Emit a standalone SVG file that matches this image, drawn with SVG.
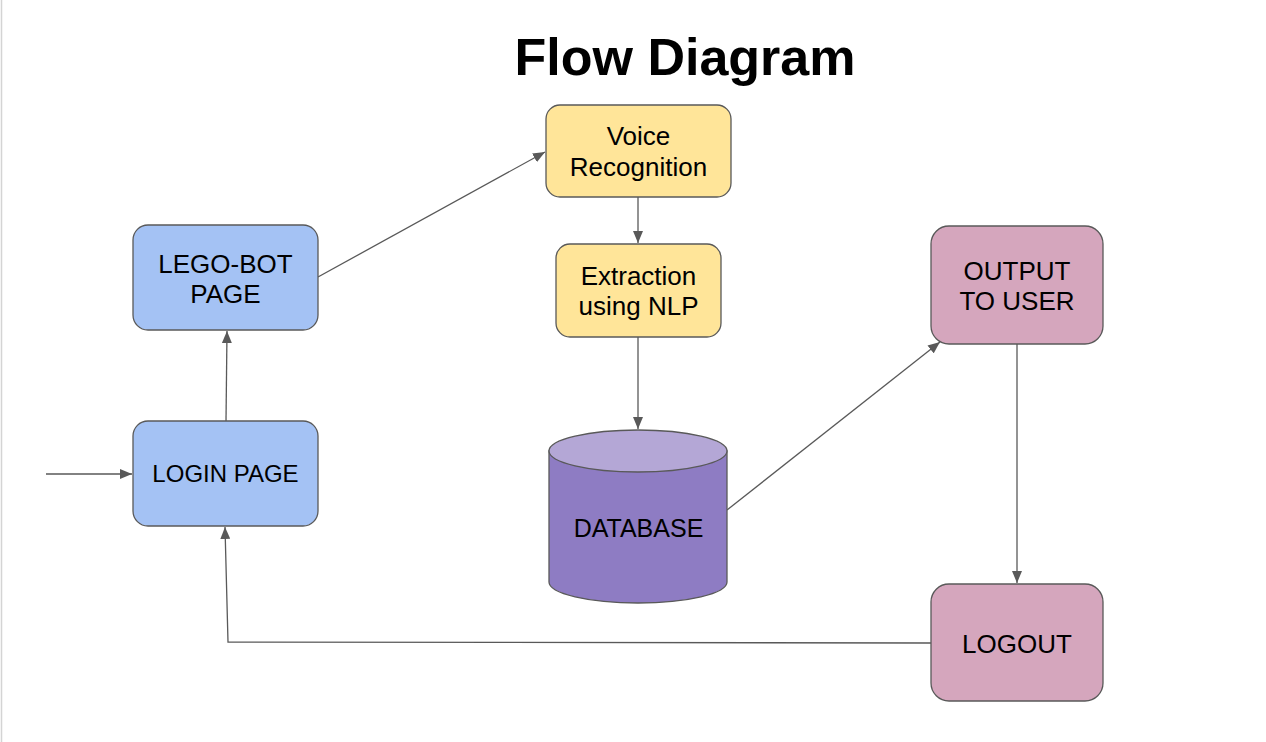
<svg xmlns="http://www.w3.org/2000/svg" width="1266" height="742" viewBox="0 0 1266 742">
<style>
.node{stroke:#595959;stroke-width:1.3}
.blue{fill:#a4c2f4}.yellow{fill:#ffe599}.pink{fill:#d5a6bd}
.lbl{font-family:"Liberation Sans",Arial,sans-serif;font-size:26px;fill:#000;text-anchor:middle}
.conn{stroke:#595959;stroke-width:1.3;fill:none}
.title{font-family:"Liberation Sans",Arial,sans-serif;font-size:52px;font-weight:bold;text-anchor:middle;fill:#000}
</style>
<defs>
<marker id="ah" viewBox="0 0 12 10" refX="12" refY="5" markerWidth="12" markerHeight="10" markerUnits="userSpaceOnUse" orient="auto">
<path d="M0,0 L12,5 L0,10 z" fill="#595959"/>
</marker>
</defs>
<rect x="0" y="0" width="1266" height="742" fill="#fff"/>
<line x1="1.5" y1="0" x2="1.5" y2="742" stroke="#d4d4d4" stroke-width="1.5"/>
<text class="title" x="685" y="75">Flow Diagram</text>
<g id="connectors">
<line class="conn" x1="46" y1="474" x2="132" y2="474" marker-end="url(#ah)"/>
<line class="conn" x1="226" y1="421" x2="227" y2="331" marker-end="url(#ah)"/>
<line class="conn" x1="318" y1="277" x2="545" y2="152" marker-end="url(#ah)"/>
<line class="conn" x1="638" y1="197" x2="638" y2="243" marker-end="url(#ah)"/>
<line class="conn" x1="638" y1="337" x2="638" y2="429" marker-end="url(#ah)"/>
<line class="conn" x1="727" y1="510" x2="940" y2="342" marker-end="url(#ah)"/>
<line class="conn" x1="1017" y1="344" x2="1017" y2="583" marker-end="url(#ah)"/>
<polyline class="conn" points="931,643 228,642 225,527" marker-end="url(#ah)"/>
</g>
<g id="lego-bot">
<rect class="node blue" x="133" y="225" width="185" height="105" rx="15"/>
<text class="lbl" x="225.5" y="273">LEGO-BOT</text>
<text class="lbl" x="225.5" y="303">PAGE</text>
</g>
<g id="login">
<rect class="node blue" x="133" y="421" width="185" height="105" rx="15"/>
<text class="lbl" x="225.5" y="482" style="font-size:24px">LOGIN PAGE</text>
</g>
<g id="voice">
<rect class="node yellow" x="546" y="105" width="185" height="92" rx="14"/>
<text class="lbl" x="638.5" y="145">Voice</text>
<text class="lbl" x="638.5" y="176">Recognition</text>
</g>
<g id="extraction">
<rect class="node yellow" x="556" y="244" width="165" height="93" rx="14"/>
<text class="lbl" x="638.5" y="285">Extraction</text>
<text class="lbl" x="638.5" y="315">using NLP</text>
</g>
<g id="database">
<path class="node" fill="#8e7cc3" d="M549,451 L549,582 A89,21 0 0 0 727,582 L727,451 Z"/>
<ellipse class="node" fill="#b4a7d6" cx="638" cy="451" rx="89" ry="21"/>
<text class="lbl" x="638.5" y="537" style="font-size:25px">DATABASE</text>
</g>
<g id="output">
<rect class="node pink" x="931" y="226" width="172" height="118" rx="18"/>
<text class="lbl" x="1017" y="280">OUTPUT</text>
<text class="lbl" x="1017" y="310">TO USER</text>
</g>
<g id="logout">
<rect class="node pink" x="931" y="584" width="172" height="117" rx="18"/>
<text class="lbl" x="1017" y="653">LOGOUT</text>
</g>
</svg>
